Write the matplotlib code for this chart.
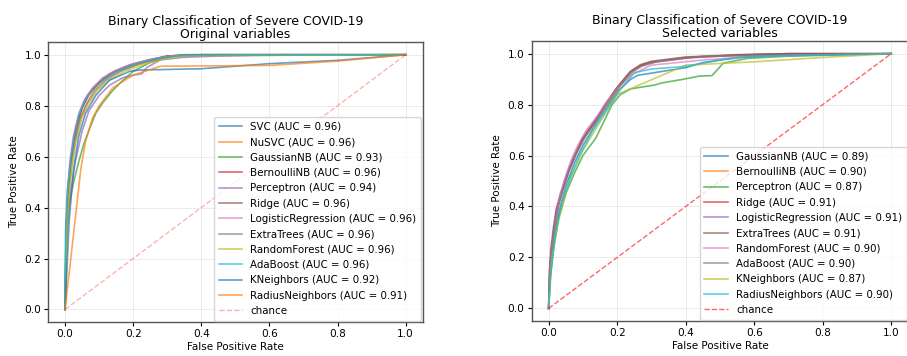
"""ROC curves for binary classification of severe COVID-19 (original vs selected variables)."""

import matplotlib

matplotlib.use("Agg")
import matplotlib.pyplot as plt  # noqa: E402

# --- Left panel: original variables -------------------------------------------
orig_models = [
    "SVC", "NuSVC", "GaussianNB", "BernoulliNB", "Perceptron", "Ridge",
    "LogisticRegression", "ExtraTrees", "RandomForest", "AdaBoost",
    "KNeighbors", "RadiusNeighbors",
]
orig_auc = [0.96, 0.96, 0.93, 0.96, 0.94, 0.96, 0.96, 0.96, 0.96, 0.96, 0.92, 0.91]
orig_fpr = [
    [0, 0.003, 0.008, 0.015, 0.025, 0.04, 0.055, 0.08, 0.11, 0.15, 0.2, 0.25, 0.3, 0.4, 1],
    [0, 0.005, 0.01, 0.02, 0.03, 0.045, 0.06, 0.085, 0.12, 0.16, 0.21, 0.26, 0.32, 0.45, 1],
    [0, 0.002, 0.01, 0.025, 0.04, 0.055, 0.075, 0.09, 0.11, 0.14, 0.17, 0.2, 0.25, 0.3, 0.35, 1],
    [0, 0.004, 0.01, 0.02, 0.035, 0.05, 0.07, 0.1, 0.14, 0.19, 0.25, 0.3, 0.38, 1],
    [0, 0.005, 0.015, 0.03, 0.05, 0.07, 0.1, 0.13, 0.17, 0.2, 0.225, 0.24, 0.28, 0.35, 0.45, 0.6, 1],
    [0, 0.003, 0.009, 0.018, 0.03, 0.045, 0.065, 0.095, 0.13, 0.18, 0.24, 0.3, 0.36, 1],
    [0, 0.003, 0.007, 0.014, 0.024, 0.038, 0.055, 0.08, 0.11, 0.15, 0.2, 0.26, 0.32, 1],
    [0, 0.004, 0.01, 0.018, 0.03, 0.045, 0.065, 0.09, 0.125, 0.17, 0.22, 0.28, 0.34, 1],
    [0, 0.004, 0.011, 0.02, 0.032, 0.048, 0.068, 0.095, 0.13, 0.175, 0.23, 0.29, 0.36, 1],
    [0, 0.001, 0.006, 0.016, 0.028, 0.042, 0.06, 0.085, 0.12, 0.16, 0.21, 0.27, 0.33, 1],
    [0, 0.012, 0.025, 0.04, 0.06, 0.09, 0.13, 0.19, 0.22, 0.4, 0.6, 0.8, 1],
    [0, 0.046, 0.06, 0.08, 0.1, 0.14, 0.2, 0.28, 0.6, 0.8, 1],
]
orig_tpr = [
    [0, 0.3, 0.45, 0.57, 0.67, 0.76, 0.81, 0.865, 0.905, 0.935, 0.96, 0.98, 0.995, 1, 1],
    [0, 0.3, 0.44, 0.57, 0.66, 0.75, 0.8, 0.86, 0.905, 0.935, 0.96, 0.98, 0.995, 1, 1],
    [0, 0.25, 0.4, 0.5, 0.58, 0.65, 0.72, 0.77, 0.81, 0.86, 0.9, 0.935, 0.97, 0.99, 1, 1],
    [0, 0.35, 0.5, 0.62, 0.72, 0.79, 0.845, 0.89, 0.93, 0.96, 0.98, 0.995, 1, 1],
    [0, 0.3, 0.45, 0.58, 0.7, 0.78, 0.84, 0.88, 0.91, 0.92, 0.925, 0.95, 0.98, 0.99, 0.995, 1, 1],
    [0, 0.32, 0.48, 0.6, 0.7, 0.78, 0.84, 0.885, 0.925, 0.955, 0.978, 0.993, 1, 1],
    [0, 0.3, 0.46, 0.58, 0.68, 0.76, 0.82, 0.87, 0.91, 0.94, 0.965, 0.985, 0.997, 1],
    [0, 0.3, 0.45, 0.57, 0.67, 0.75, 0.81, 0.86, 0.905, 0.94, 0.965, 0.985, 0.997, 1],
    [0, 0.29, 0.44, 0.56, 0.66, 0.745, 0.805, 0.86, 0.9, 0.935, 0.962, 0.983, 0.996, 1],
    [0, 0.3, 0.46, 0.59, 0.69, 0.77, 0.825, 0.87, 0.91, 0.94, 0.965, 0.985, 0.997, 1],
    [0, 0.35, 0.55, 0.68, 0.77, 0.84, 0.9, 0.935, 0.94, 0.945, 0.965, 0.978, 1],
    [0, 0.55, 0.66, 0.75, 0.8, 0.87, 0.92, 0.955, 0.958, 0.975, 1],
]

# --- Right panel: selected variables ------------------------------------------
sel_models = [
    "GaussianNB", "BernoulliNB", "Perceptron", "Ridge", "LogisticRegression",
    "ExtraTrees", "RandomForest", "AdaBoost", "KNeighbors", "RadiusNeighbors",
]
sel_auc = [0.89, 0.90, 0.87, 0.91, 0.91, 0.91, 0.90, 0.90, 0.87, 0.90]
sel_fpr = [
    [0, 0.005, 0.015, 0.03, 0.05, 0.075, 0.1, 0.14, 0.17, 0.2, 0.24, 0.26, 0.4, 0.45, 0.55, 0.7, 1],
    [0, 0.004, 0.012, 0.025, 0.04, 0.06, 0.08, 0.105, 0.14, 0.17, 0.205, 0.245, 0.275, 0.31, 0.42, 0.6, 1],
    [0, 0.005, 0.015, 0.03, 0.05, 0.075, 0.1, 0.137, 0.16, 0.185, 0.21, 0.24, 0.31, 0.33, 0.395, 0.44, 0.477, 0.51, 0.583, 0.7, 1],
    [0, 0.003, 0.007, 0.015, 0.024, 0.035, 0.058, 0.078, 0.1, 0.137, 0.166, 0.2, 0.24, 0.27, 0.3, 0.4, 0.55, 0.7, 1],
    [0, 0.003, 0.006, 0.014, 0.022, 0.034, 0.056, 0.076, 0.098, 0.135, 0.165, 0.2, 0.24, 0.27, 0.3, 0.4, 0.55, 0.7, 1],
    [0, 0.003, 0.007, 0.015, 0.023, 0.035, 0.057, 0.077, 0.1, 0.136, 0.165, 0.198, 0.238, 0.268, 0.3, 0.4, 0.55, 0.7, 1],
    [0, 0.004, 0.01, 0.02, 0.03, 0.045, 0.065, 0.085, 0.11, 0.145, 0.175, 0.205, 0.245, 0.3, 0.45, 0.6, 1],
    [0, 0.004, 0.009, 0.018, 0.028, 0.04, 0.062, 0.082, 0.105, 0.14, 0.17, 0.2, 0.24, 0.27, 0.32, 0.45, 1],
    [0, 0.01, 0.03, 0.06, 0.1, 0.14, 0.2, 0.4, 0.6, 0.8, 1],
    [0, 0.005, 0.02, 0.04, 0.065, 0.09, 0.13, 0.17, 0.21, 0.25, 0.3, 0.4, 0.5, 0.6, 1],
]
sel_tpr = [
    [0, 0.15, 0.28, 0.38, 0.48, 0.57, 0.64, 0.73, 0.79, 0.85, 0.9, 0.915, 0.945, 0.965, 0.985, 0.995, 1],
    [0, 0.15, 0.27, 0.38, 0.46, 0.55, 0.61, 0.67, 0.74, 0.8, 0.865, 0.93, 0.955, 0.967, 0.985, 0.996, 1],
    [0, 0.12, 0.24, 0.36, 0.45, 0.53, 0.6, 0.667, 0.73, 0.8, 0.84, 0.862, 0.877, 0.885, 0.9, 0.912, 0.914, 0.963, 0.982, 0.99, 1],
    [0, 0.15, 0.22, 0.31, 0.39, 0.44, 0.535, 0.6, 0.665, 0.735, 0.8, 0.865, 0.93, 0.955, 0.968, 0.985, 0.995, 1, 1],
    [0, 0.16, 0.23, 0.32, 0.39, 0.45, 0.54, 0.605, 0.668, 0.738, 0.802, 0.866, 0.928, 0.952, 0.965, 0.983, 0.994, 1, 1],
    [0, 0.15, 0.22, 0.31, 0.385, 0.445, 0.535, 0.6, 0.667, 0.737, 0.8, 0.865, 0.93, 0.957, 0.97, 0.987, 0.996, 1, 1],
    [0, 0.14, 0.24, 0.34, 0.42, 0.5, 0.58, 0.64, 0.7, 0.76, 0.82, 0.87, 0.92, 0.955, 0.975, 0.99, 1],
    [0, 0.15, 0.23, 0.32, 0.4, 0.46, 0.55, 0.61, 0.67, 0.74, 0.8, 0.86, 0.925, 0.95, 0.97, 0.99, 1],
    [0, 0.2, 0.35, 0.5, 0.62, 0.71, 0.84, 0.955, 0.968, 0.985, 1],
    [0, 0.12, 0.3, 0.42, 0.52, 0.6, 0.7, 0.78, 0.86, 0.925, 0.94, 0.95, 0.975, 0.99, 1],
]

palette = plt.rcParams["axes.prop_cycle"].by_key()["color"]


def draw(ax, models, aucs, fprs, tprs, subtitle, chance_alpha):
    for i, name in enumerate(models):
        ax.plot(fprs[i], tprs[i], color=palette[i % len(palette)], lw=1.2, alpha=0.7,
                label=f"{name} (AUC = {aucs[i]:.2f})")
    ax.plot([0, 1], [0, 1], linestyle="--", color="red", lw=1.0, alpha=chance_alpha,
            label="chance")
    ax.set_title(f"Binary Classification of Severe COVID-19\n{subtitle}", fontsize=9.0,
                 linespacing=1.0, pad=3)
    ax.set_xlabel("False Positive Rate", fontsize=7.5, labelpad=2)
    ax.set_ylabel("True Positive Rate", fontsize=7.5, labelpad=4)
    ax.set_xticks([0, 0.2, 0.4, 0.6, 0.8, 1.0])
    ax.set_yticks([0, 0.2, 0.4, 0.6, 0.8, 1.0])
    ax.tick_params(labelsize=7.6, length=3, pad=2)
    ax.grid(color="#dddddd", linewidth=0.6, alpha=0.7)
    for spine in ax.spines.values():
        spine.set_color("#555555")
        spine.set_linewidth(1.0)
    ax.legend(loc="lower right", fontsize=7.4, handlelength=2.3, labelspacing=0.52,
              borderpad=0.45, handletextpad=0.8, borderaxespad=0.15, framealpha=0.8,
              edgecolor="#cccccc", fancybox=True)


fig = plt.figure(figsize=(9.07, 3.56), dpi=100)
ax_l = fig.add_axes([0.053, 0.095, 0.413, 0.787])
# right panel's right spine sits just past the image edge, as in the source
ax_r = fig.add_axes([0.586, 0.098, 0.4155, 0.787])

draw(ax_l, orig_models, orig_auc, orig_fpr, orig_tpr, "Original variables", 0.3)
draw(ax_r, sel_models, sel_auc, sel_fpr, sel_tpr, "Selected variables", 0.6)

fig.savefig("out.png", dpi=100, facecolor="white")
